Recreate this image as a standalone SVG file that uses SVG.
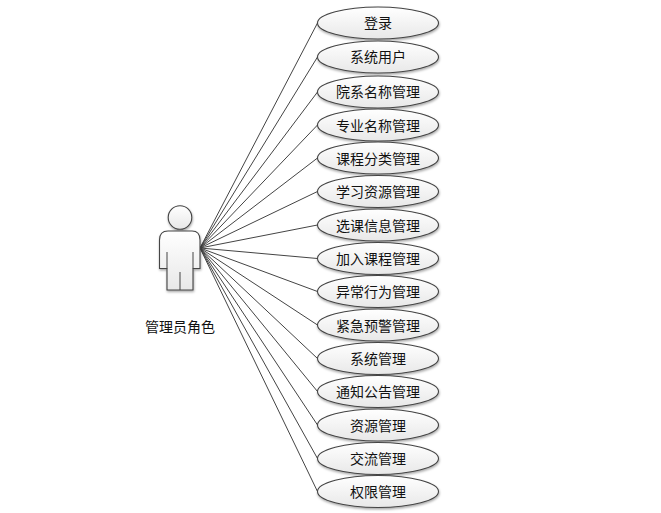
<svg xmlns="http://www.w3.org/2000/svg" width="661" height="513" viewBox="0 0 661 513">
<style>
text{font-family:"Noto Sans CJK SC","Liberation Sans",sans-serif;font-size:14px;fill:#111;text-anchor:middle;dominant-baseline:central}
.u{fill:url(#g);stroke:#444;stroke-width:1.1}
.c{stroke:#444;stroke-width:1;fill:none}
</style>
<defs>
<linearGradient id="g" x1="0" y1="0" x2="0" y2="1"><stop offset="0" stop-color="#fff"/><stop offset="1" stop-color="#e8e8e8"/></linearGradient>
<filter id="s" x="-10%" y="-10%" width="120%" height="130%"><feDropShadow dx="0.5" dy="1.5" stdDeviation="0.8" flood-color="#000" flood-opacity="0.35"/></filter>
<ellipse id="e" class="u" rx="60.5" ry="16" filter="url(#s)"/>
</defs>
<rect width="661" height="513" fill="#fff"/>
<g id="connectors">
<path class="c" d="M200 248L317.500 23M200 248L317.500 57M200 248L317.500 92M200 248L317.500 125M200 248L317.500 158M200 248L317.500 191.500M200 248L317.500 225M200 248L317.500 258.500M200 248L317.500 291.500M200 248L317.500 325M200 248L317.500 358.500M200 248L317.500 391.500M200 248L317.500 425M200 248L317.500 458.500M200 248L317.500 491.500"/>
</g>
<g id="actor" filter="url(#s)">
<circle class="u" cx="180" cy="217.500" r="11.800"/>
<path class="u" d="M168 231H192Q200 231 200 240V268.500H193V290H167V268.500H159.500V240Q159.500 231 168 231Z"/>
<path class="c" d="M167 252V268.500M193 252V268.500M180 272V290"/>
</g>
<g id="actor-label"><text x="180" y="325.500">管理员角色</text></g>
<g id="n1"><use href="#e" x="378" y="23"/><text x="378" y="22">登录</text></g>
<g id="n2"><use href="#e" x="378" y="57"/><text x="378" y="56">系统用户</text></g>
<g id="n3"><use href="#e" x="378" y="92"/><text x="378" y="91">院系名称管理</text></g>
<g id="n4"><use href="#e" x="378" y="125"/><text x="378" y="124.500">专业名称管理</text></g>
<g id="n5"><use href="#e" x="378" y="158"/><text x="378" y="157.500">课程分类管理</text></g>
<g id="n6"><use href="#e" x="378" y="191.500"/><text x="378" y="190.500">学习资源管理</text></g>
<g id="n7"><use href="#e" x="378" y="225"/><text x="378" y="224.500">选课信息管理</text></g>
<g id="n8"><use href="#e" x="378" y="258.500"/><text x="378" y="257.500">加入课程管理</text></g>
<g id="n9"><use href="#e" x="378" y="291.500"/><text x="378" y="290.500">异常行为管理</text></g>
<g id="n10"><use href="#e" x="378" y="325"/><text x="378" y="324.500">紧急预警管理</text></g>
<g id="n11"><use href="#e" x="378" y="358.500"/><text x="378" y="357.500">系统管理</text></g>
<g id="n12"><use href="#e" x="378" y="391.500"/><text x="378" y="390.500">通知公告管理</text></g>
<g id="n13"><use href="#e" x="378" y="425"/><text x="378" y="424.500">资源管理</text></g>
<g id="n14"><use href="#e" x="378" y="458.500"/><text x="378" y="457.500">交流管理</text></g>
<g id="n15"><use href="#e" x="378" y="491.500"/><text x="378" y="490.500">权限管理</text></g>
</svg>
